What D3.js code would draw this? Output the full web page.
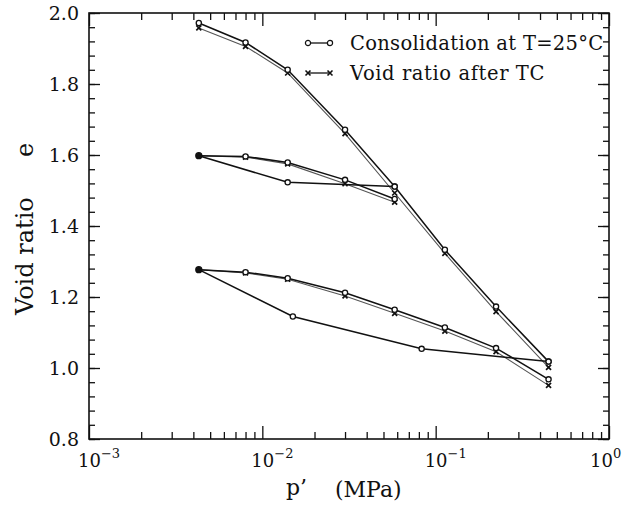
<!DOCTYPE html>
<html>
<head>
<meta charset="utf-8">
<script src="https://cdn.jsdelivr.net/npm/d3@7"></script>
<style>
  body { margin: 0; background: #fff; }
  svg text { font-family: "DejaVu Serif", serif; fill: #111; }
</style>
</head>
<body>
<div id="chart"></div>
<script>
// loading steps (MPa), same for all three runs
const pSteps = [0.0043, 0.008, 0.014, 0.03, 0.058, 0.113, 0.223, 0.448];

// run A - virgin loading from e ~ 1.97
const eConsolA = [1.972, 1.917, 1.840, 1.671, 1.511, 1.333, 1.173, 1.018];
const eAfterTcA = [1.958, 1.906, 1.831, 1.660, 1.493, 1.323, 1.159, 1.002];

// run B - reloading after unloading from 0.058 MPa
const pReloadB = [0.0043, 0.008, 0.014, 0.03, 0.058];
const eConsolB = [1.598, 1.596, 1.579, 1.530, 1.476];
const eAfterTcB = [1.598, 1.594, 1.575, 1.519, 1.467];
const pUnloadB = [0.058, 0.014, 0.0043];
const eUnloadB = [1.511, 1.523, 1.598];

// run C - reloading after unloading from 0.448 MPa
const eConsolC = [1.277, 1.270, 1.253, 1.212, 1.164, 1.114, 1.056, 0.968];
const eAfterTcC = [1.277, 1.268, 1.250, 1.203, 1.154, 1.104, 1.046, 0.951];
const pUnloadC = [0.448, 0.083, 0.015, 0.0043];
const eUnloadC = [1.018, 1.054, 1.145, 1.277];

const yMajor = [0.8, 1.0, 1.2, 1.4, 1.6, 1.8, 2.0];
const xDecades = [0.001, 0.01, 0.1, 1];
const xExp = ["-3", "-2", "-1", "0"];

const legendItems = ["Consolidation at T=25\u00b0C", "Void ratio after TC"];

const W = 624, H = 508;
const margin = { top: 13, right: 15, bottom: 69, left: 89 };
const width = W - margin.left - margin.right,
      height = H - margin.top - margin.bottom;

const svg = d3.select("#chart").append("svg")
  .attr("width", W).attr("height", H)
  .append("g")
  .attr("transform", `translate(${margin.left},${margin.top})`);

const x = d3.scaleLog().domain([0.001, 1]).range([0, width]);
const y = d3.scaleLinear().domain([0.8, 2.0]).range([height, 0]);

// minor ticks 2..9 in every decade
const xMinor = [];
xDecades.slice(0, 3).forEach(d => { for (let k = 2; k <= 9; k++) xMinor.push(d * k); });
const yMinor = d3.range(0, 31).map(i => +(0.8 + i * 0.04).toFixed(2));

function tickAxis(axis, vals, size) {
  return axis.tickValues(vals).tickSize(size).tickFormat("");
}

// bottom / top
svg.append("g").attr("transform", `translate(0,${height})`).call(tickAxis(d3.axisBottom(x), xMinor, -7));
svg.append("g").attr("transform", `translate(0,${height})`).call(tickAxis(d3.axisBottom(x), xDecades, -13));
svg.append("g").call(tickAxis(d3.axisTop(x), xMinor, -7));
svg.append("g").call(tickAxis(d3.axisTop(x), xDecades, -13));
// left / right
svg.append("g").call(tickAxis(d3.axisLeft(y), yMinor, -6));
svg.append("g").call(tickAxis(d3.axisLeft(y), yMajor, -11));
svg.append("g").attr("transform", `translate(${width},0)`).call(tickAxis(d3.axisRight(y), yMinor, -6));
svg.append("g").attr("transform", `translate(${width},0)`).call(tickAxis(d3.axisRight(y), yMajor, -11));

svg.selectAll(".domain").remove();
svg.selectAll(".tick line").attr("stroke", "#111").attr("stroke-width", 1.3);

svg.append("rect")
  .attr("width", width).attr("height", height)
  .attr("fill", "none").attr("stroke", "#111").attr("stroke-width", 1.6);

// y tick labels
svg.selectAll(".ylab").data(yMajor).enter().append("text")
  .attr("class", "ylab")
  .attr("x", -10).attr("y", d => y(d))
  .attr("dy", "0.36em")
  .attr("text-anchor", "end")
  .style("font-size", "19px")
  .text(d => d.toFixed(1));

// x tick labels 10^n (last one pulled in a little so it stays on the page)
const xl = svg.selectAll(".xlab").data(xDecades).enter().append("text")
  .attr("class", "xlab")
  .attr("x", (d, i) => x(d) - (i === 3 ? 19 : 11)).attr("y", height + 28)
  .style("font-size", "18px");
xl.append("tspan").text("10");
xl.append("tspan").attr("dy", -9).style("font-size", "13px")
  .text((d, i) => xExp[i].replace("-", "\u2212"));

// axis titles
svg.append("text")
  .attr("transform", `translate(${33 - margin.left},${315 - margin.top}) rotate(-90)`)
  .style("font-size", "24px")
  .text("Void ratio");
svg.append("text")
  .attr("transform", `translate(${33 - margin.left},${157 - margin.top}) rotate(-90)`)
  .style("font-size", "24px")
  .text("e");
svg.append("text")
  .attr("x", 286 - margin.left).attr("y", 495 - margin.top)
  .style("font-size", "22px")
  .text("p\u2019");
svg.append("text")
  .attr("x", 335 - margin.left).attr("y", 497 - margin.top)
  .style("font-size", "22px")
  .text("(MPa)");

// series drawing
const line = d3.line().x(d => x(d[0])).y(d => y(d[1]));
const zip = (ps, es) => ps.map((p, i) => [p, es[i]]);

function drawConsol(pts) {
  svg.append("path").datum(pts).attr("d", line)
    .attr("fill", "none").attr("stroke", "#111").attr("stroke-width", 1.5);
}
function drawTc(pts) {
  svg.append("path").datum(pts).attr("d", line)
    .attr("fill", "none").attr("stroke", "#555").attr("stroke-width", 1.1);
}
function circles(pts, filledFirst) {
  svg.append("g").selectAll("circle").data(pts).enter().append("circle")
    .attr("cx", d => x(d[0])).attr("cy", d => y(d[1]))
    .attr("r", (d, i) => filledFirst && i === 0 ? 3 : 2.6)
    .attr("fill", (d, i) => filledFirst && i === 0 ? "#111" : "#fff")
    .attr("stroke", "#111").attr("stroke-width", 1.3);
}
function crosses(pts) {
  svg.append("g").selectAll("path").data(pts).enter().append("path")
    .attr("transform", d => `translate(${x(d[0])},${y(d[1])})`)
    .attr("d", "M-2.5,-2.5L2.5,2.5M-2.5,2.5L2.5,-2.5")
    .attr("stroke", "#111").attr("stroke-width", 1.7);
}

const tcA = zip(pSteps, eAfterTcA), coA = zip(pSteps, eConsolA);
const tcB = zip(pReloadB, eAfterTcB), coB = zip(pReloadB, eConsolB);
const tcC = zip(pSteps, eAfterTcC), coC = zip(pSteps, eConsolC);
const unB = zip(pUnloadB, eUnloadB), unC = zip(pUnloadC, eUnloadC);

[tcA, tcB, tcC].forEach(drawTc);
[coA, coB, coC, unB, unC].forEach(drawConsol);
[tcA, tcB.slice(1), tcC.slice(1)].forEach(crosses);
circles(coA, false);
circles(unB.slice(0, 2), false);
circles(unC.slice(0, 3), false);
circles(coB, true);
circles(coC, true);

// legend
const legFont = "19.5px";
const leg = svg.append("g").attr("transform", `translate(${308 - margin.left},${43 - margin.top})`);
leg.append("line").attr("x1", 0).attr("x2", 22).attr("stroke", "#111").attr("stroke-width", 1.3);
leg.selectAll("circle").data([0, 22]).enter().append("circle")
  .attr("cx", d => d).attr("r", 2.6).attr("fill", "#fff").attr("stroke", "#111").attr("stroke-width", 1.2);
leg.append("text").attr("x", 42).attr("y", 7).style("font-size", legFont)
  .style("letter-spacing", "0.3px").text(legendItems[0]);
const leg2 = svg.append("g").attr("transform", `translate(${308 - margin.left},${73 - margin.top})`);
leg2.append("line").attr("x1", 0).attr("x2", 22).attr("stroke", "#111").attr("stroke-width", 1.3);
leg2.selectAll("path").data([0, 22]).enter().append("path")
  .attr("transform", d => `translate(${d},0)`)
  .attr("d", "M-2.5,-2.5L2.5,2.5M-2.5,2.5L2.5,-2.5")
  .attr("stroke", "#111").attr("stroke-width", 1.6);
leg2.append("text").attr("x", 42).attr("y", 7).style("font-size", legFont)
  .style("letter-spacing", "0.6px").text(legendItems[1]);
</script>
</body>
</html>
